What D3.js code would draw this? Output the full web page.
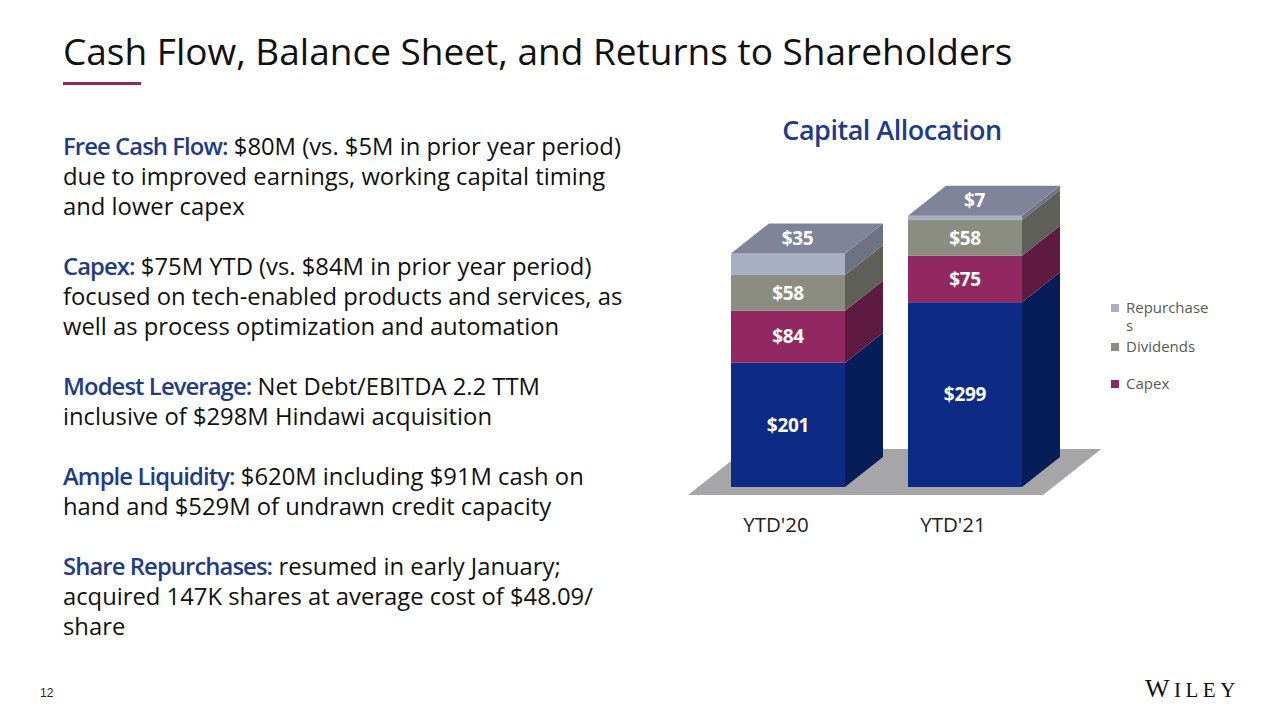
<!DOCTYPE html>
<html>
<head>
<meta charset="utf-8">
<script src="https://cdn.jsdelivr.net/npm/d3@7"></script>
<style>
  body { margin: 0; background: #fff; }
  svg { display: block; font-family: "Open Sans", sans-serif; }
</style>
</head>
<body>
<svg id="slide" width="1280" height="720"></svg>
<script>
// chart data
const categories = ["YTD'20", "YTD'21"];
const acquisitions = [201, 299];
const capex = [84, 75];
const dividends = [58, 58];
const repurchases = [35, 7];
const seriesNames = ["Acquisitions", "Capex", "Dividends", "Repurchases"];
const legendLabels = ["Repurchases", "Dividends", "Capex"];

// slide text
const titleText = "Cash Flow, Balance Sheet, and Returns to Shareholders";
const bullets = [
  { head: "Free Cash Flow:", lines: [" $80M (vs. $5M in prior year period)", "due to improved earnings, working capital timing", "and lower capex"] },
  { head: "Capex:", lines: [" $75M YTD (vs. $84M in prior year period)", "focused on tech-enabled products and services, as", "well as process optimization and automation"] },
  { head: "Modest Leverage:", lines: [" Net Debt/EBITDA 2.2 TTM", "inclusive of $298M Hindawi acquisition"] },
  { head: "Ample Liquidity:", lines: [" $620M including $91M cash on", "hand and $529M of undrawn credit capacity"] },
  { head: "Share Repurchases:", lines: [" resumed in early January;", "acquired 147K shares at average cost of $48.09/", "share"] }
];

const svg = d3.select("#slide");

// colors for each series: front face / side face
const front = { Acquisitions: "#0d2a84", Capex: "#922862", Dividends: "#8c8d82", Repurchases: "#aab0c4" };
const side = { Acquisitions: "#071d57", Capex: "#5e1a40", Dividends: "#5d5f58", Repurchases: "#6f7282" };
const topColor = "#80849a";

// ---- title ----
svg.append("text")
  .attr("x", 63).attr("y", 65)
  .attr("font-size", 37)
  .attr("fill", "#111")
  .text(titleText);

svg.append("rect")
  .attr("x", 63).attr("y", 82).attr("width", 78).attr("height", 3)
  .attr("fill", "#8e2a5d");

// ---- left text block ----
const lineH = 30;
let row = 0;
const body = svg.append("g").attr("font-size", 23.8).attr("fill", "#111");
bullets.forEach(b => {
  b.lines.forEach((ln, i) => {
    const t = body.append("text").attr("x", 63).attr("y", 155 + row * lineH);
    if (i === 0) {
      t.append("tspan").attr("fill", "#1d3b8a").attr("font-weight", 600)
        .attr("letter-spacing", -0.9).text(b.head);
    }
    t.append("tspan").text(ln);
    row++;
  });
  row++;
});

// ---- chart ----
const depthX = 38, depthY = 30;

const x = d3.scaleBand()
  .domain(categories)
  .range([731, 1022])
  .paddingInner(0.356)
  .paddingOuter(0);

const y = d3.scaleLinear()
  .domain([0, 500])
  .range([487, 178]);

const stackData = categories.map((c, i) => ({
  cat: c,
  Acquisitions: acquisitions[i],
  Capex: capex[i],
  Dividends: dividends[i],
  Repurchases: repurchases[i]
}));

const stacked = d3.stack().keys(seriesNames)(stackData);

const chart = svg.append("g");

// floor
const floorFront = y(0) + 8;
const floorBack = floorFront - 46;
const fx0 = x.range()[0] - 43, fx1 = x.range()[1] + 21;
const shift = (floorFront - floorBack) * depthX / depthY;
chart.append("path")
  .attr("d", `M${fx0},${floorFront}L${fx1},${floorFront}L${fx1 + shift},${floorBack}L${fx0 + shift},${floorBack}Z`)
  .attr("fill", "#a6a6a8");

// chart title
svg.append("text")
  .attr("x", 892).attr("y", 140)
  .attr("text-anchor", "middle")
  .attr("font-size", 27).attr("font-weight", 600)
  .attr("letter-spacing", -0.5)
  .attr("fill", "#1d3b8a")
  .text("Capital Allocation");

const bw = x.bandwidth();
stacked.forEach((layer, li) => {
  const key = layer.key;
  const g = chart.append("g").attr("class", "series-" + key);
  layer.forEach(d => {
    const x0 = x(d.data.cat);
    const yTop = y(d[1]), yBot = y(d[0]);
    // side face
    g.append("path")
      .attr("d", `M${x0 + bw},${yBot}L${x0 + bw + depthX},${yBot - depthY}L${x0 + bw + depthX},${yTop - depthY}L${x0 + bw},${yTop}Z`)
      .attr("fill", side[key]);
    // front face
    g.append("rect")
      .attr("x", x0).attr("y", yTop)
      .attr("width", bw).attr("height", yBot - yTop)
      .attr("fill", front[key]);
    // top face on last series
    if (li === stacked.length - 1) {
      g.append("path")
        .attr("d", `M${x0},${yTop}L${x0 + depthX},${yTop - depthY}L${x0 + bw + depthX},${yTop - depthY}L${x0 + bw},${yTop}Z`)
        .attr("fill", topColor);
    }
  });
});

// value labels
const labels = svg.append("g")
  .attr("font-size", 19).attr("font-weight", 700)
  .attr("letter-spacing", -0.3)
  .attr("fill", "#fff").attr("text-anchor", "middle");
stacked.forEach((layer, li) => {
  layer.forEach(d => {
    const xc = x(d.data.cat) + bw / 2;
    let lx = xc, ly = (y(d[0]) + y(d[1])) / 2;
    if (li === stacked.length - 1) {
      lx = xc + depthX / 4;
      ly = y(d[1]) - depthY / 2;
    }
    labels.append("text")
      .attr("x", lx).attr("y", ly).attr("dy", "0.35em")
      .text("$" + (d[1] - d[0]));
  });
});

// category labels
svg.append("g")
  .selectAll("text")
  .data(categories)
  .join("text")
  .attr("x", d => x(d) + bw / 2 - 12)
  .attr("y", 532)
  .attr("text-anchor", "middle")
  .attr("font-size", 20.5)
  .attr("fill", "#222")
  .text(d => d);

// legend (first entry wraps onto two lines like the original)
const legend = svg.append("g").attr("font-size", 15).attr("fill", "#595959");
const legendY = [308, 347, 384];
legendLabels.forEach((name, i) => {
  legend.append("rect")
    .attr("x", 1111).attr("y", legendY[i] - 4)
    .attr("width", 8).attr("height", 8)
    .attr("fill", front[name]);
  const t = legend.append("text").attr("x", 1126).attr("y", legendY[i]).attr("dy", "0.35em");
  if (name === "Repurchases") {
    t.append("tspan").text("Repurchase");
    t.append("tspan").attr("x", 1126).attr("dy", 18).text("s");
  } else {
    t.text(name);
  }
});

// footer
svg.append("text")
  .attr("x", 40).attr("y", 697)
  .attr("font-family", "Liberation Sans, Arial, sans-serif")
  .attr("font-size", 12).attr("fill", "#222")
  .text("12");

const logo = svg.append("text")
  .attr("x", 1145).attr("y", 697)
  .attr("font-family", "Liberation Serif, serif")
  .attr("fill", "#111")
  .attr("letter-spacing", 4.5);
logo.append("tspan").attr("font-size", 26).text("W");
logo.append("tspan").attr("font-size", 21).text("ILEY");
</script>
</body>
</html>
